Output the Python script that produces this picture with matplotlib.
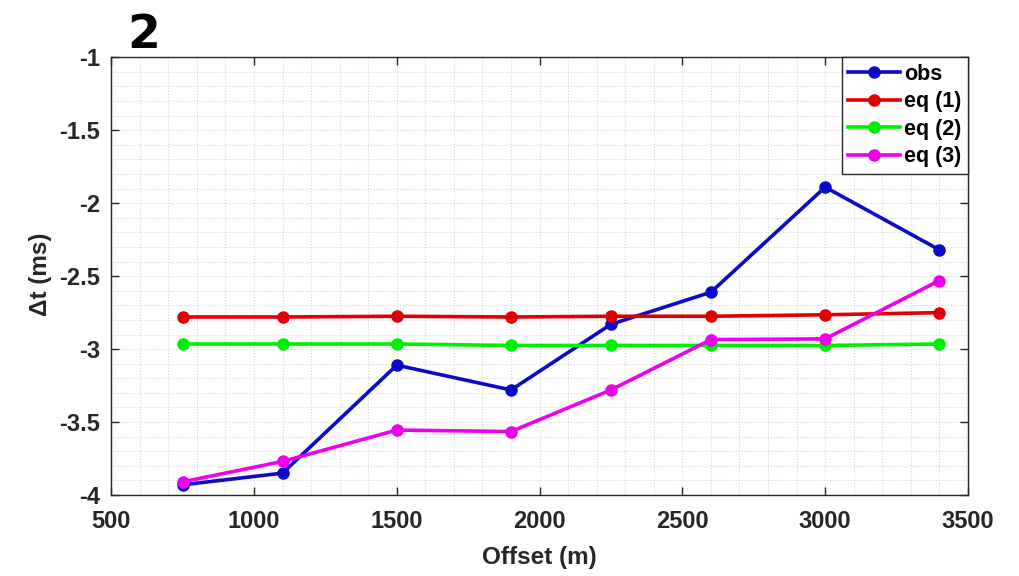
import matplotlib
matplotlib.use("Agg")
import matplotlib.pyplot as plt
from matplotlib.ticker import MultipleLocator

plt.rcParams['font.family'] = ['Liberation Sans', 'DejaVu Sans']
plt.rcParams['font.weight'] = 'bold'

offset = [750, 1100, 1500, 1900, 2250, 2600, 3000, 3400]
obs = [-3.93, -3.85, -3.11, -3.28, -2.83, -2.61, -1.89, -2.32]
eq1 = [-2.78, -2.78, -2.775, -2.78, -2.775, -2.775, -2.765, -2.75]
eq2 = [-2.965, -2.965, -2.965, -2.975, -2.975, -2.975, -2.975, -2.965]
eq3 = [-3.91, -3.77, -3.555, -3.565, -3.28, -2.935, -2.93, -2.53]

series = [("obs", obs, "#0a0ac8"), ("eq (1)", eq1, "#e00000"),
          ("eq (2)", eq2, "#00ee00"), ("eq (3)", eq3, "#ee00ee")]

fig = plt.figure(figsize=(10.2, 5.76), dpi=100)
ax = fig.add_axes([0.109, 0.1406, 0.840, 0.760])

for name, vals, col in series:
    ax.plot(offset, vals, color=col, lw=2.6, marker='o', ms=8, label=name)

ax.set_xlim(500, 3500)
ax.set_ylim(-4, -1)
ax.xaxis.set_major_locator(MultipleLocator(500))
ax.xaxis.set_minor_locator(MultipleLocator(100))
ax.yaxis.set_minor_locator(MultipleLocator(0.1))
ax.set_yticks([-4, -3.5, -3, -2.5, -2, -1.5, -1])
ax.set_yticklabels(['-4', '-3.5', '-3', '-2.5', '-2', '-1.5', '-1'])
ax.grid(which='both', color='#d6d6d6', linestyle=':', linewidth=0.8)
ax.set_axisbelow(True)
ax.tick_params(which='major', direction='in', length=6, top=True, right=True,
               labelsize=17, colors='#262626', width=1)
ax.tick_params(axis='x', which='major', pad=11)
ax.tick_params(axis='y', which='major', pad=8)
ax.tick_params(which='minor', length=0)
for s in ax.spines.values():
    s.set_color('#262626')
    s.set_linewidth(1)

ax.set_xlabel("Offset (m)", fontsize=17.5, fontweight='bold', color='#262626')
ax.xaxis.label.set_va('center')
ax.xaxis.set_label_coords(0.5, -0.142)
ax.set_ylabel("\u0394t (ms)", fontsize=17.5, fontweight='bold', color='#262626')
ax.yaxis.label.set_va('center')
ax.yaxis.label.set_ha('center')
ax.yaxis.set_label_coords(-0.083, 0.505)

leg = ax.legend(loc='upper right', fontsize=15.5, frameon=True, fancybox=False,
                borderaxespad=0, handlelength=2.4, handletextpad=0.2,
                labelspacing=0.3, borderpad=0.3)
leg.get_frame().set_edgecolor('#262626')
leg.get_frame().set_linewidth(1)
leg.get_frame().set_alpha(1)

fig.text(0.125, 0.917, "2", fontsize=34, fontweight='bold', color='black',
         family='DejaVu Sans', va='baseline')

fig.savefig("out.png", dpi=100)
